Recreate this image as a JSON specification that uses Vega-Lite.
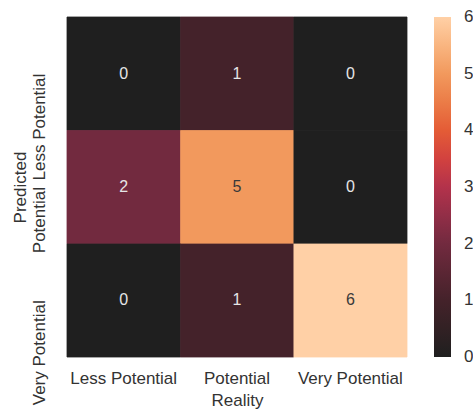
{
  "$schema": "https://vega.github.io/schema/vega-lite/v6.json",
  "autosize": "none",
  "width": 340,
  "height": 340,
  "padding": {"left": 67, "top": 17, "right": 66, "bottom": 52},
  "background": "white",
  "config": {
    "font": "Liberation Sans",
    "view": {"stroke": null},
    "axis": {"labelColor": "#333333", "titleColor": "#333333", "titleFontWeight": "normal", "domain": false, "ticks": false, "grid": false}
  },
  "data": {
    "values": [
      {"Predicted": "Less Potential", "Reality": "Less Potential", "count": 0},
      {"Predicted": "Less Potential", "Reality": "Potential", "count": 1},
      {"Predicted": "Less Potential", "Reality": "Very Potential", "count": 0},
      {"Predicted": "Potential", "Reality": "Less Potential", "count": 2},
      {"Predicted": "Potential", "Reality": "Potential", "count": 5},
      {"Predicted": "Potential", "Reality": "Very Potential", "count": 0},
      {"Predicted": "Very Potential", "Reality": "Less Potential", "count": 0},
      {"Predicted": "Very Potential", "Reality": "Potential", "count": 1},
      {"Predicted": "Very Potential", "Reality": "Very Potential", "count": 6}
    ]
  },
  "encoding": {
    "x": {
      "field": "Reality", "type": "nominal",
      "sort": ["Less Potential", "Potential", "Very Potential"],
      "scale": {"paddingInner": 0, "paddingOuter": 0},
      "axis": {"orient": "bottom", "labelAngle": 0, "labelFontSize": 17, "titleFontSize": 17, "labelPadding": 13, "titlePadding": 6}
    },
    "y": {
      "field": "Predicted", "type": "nominal",
      "sort": ["Less Potential", "Potential", "Very Potential"],
      "scale": {"paddingInner": 0, "paddingOuter": 0},
      "axis": {"orient": "left", "labelAngle": 270, "labelAlign": "right", "labelBaseline": "bottom", "labelFontSize": 17, "titleFontSize": 17, "labelPadding": 19, "titlePadding": 1}
    }
  },
  "layer": [
    {
      "mark": {"type": "rect", "filled": false, "strokeWidth": 0.8},
      "encoding": {
        "stroke": {
          "field": "count", "type": "quantitative",
          "scale": {
            "domain": [0, 1, 2, 3, 3.5, 4, 5, 6.001],
            "range": ["#1f1f1f", "#44222a", "#722a3f", "#b3324b", "#d2423f", "#e45c36", "#f2995d", "#ffd0a6"]
          },
          "legend": null
        }
      }
    },
    {
      "mark": {"type": "rect", "strokeWidth": 0},
      "encoding": {
        "color": {
          "field": "count", "type": "quantitative",
          "scale": {
            "domain": [0, 1, 2, 3, 3.5, 4, 5, 6],
            "range": ["#1f1f1f", "#44222a", "#722a3f", "#b3324b", "#d2423f", "#e45c36", "#f2995d", "#ffd0a6"]
          },
          "legend": {
            "type": "gradient",
            "orient": "none", "legendX": 367, "legendY": 0, "padding": 0,
            "title": null, "direction": "vertical",
            "gradientLength": 340, "gradientThickness": 17, "gradientStrokeWidth": 0,
            "values": [0, 1, 2, 3, 4, 5, 6],
            "labelFontSize": 17, "labelOffset": 13, "labelColor": "#333333",
            "labelBaseline": "middle", "labelOverlap": false,
            "encode": {"labels": {"update": {"baseline": {"value": "middle"}}}}
          }
        }
      }
    },
    {
      "mark": {"type": "text", "fontSize": 16},
      "encoding": {
        "text": {"field": "count", "type": "quantitative"},
        "color": {
          "condition": {"test": "datum.count >= 4", "value": "#3a3a3a"},
          "value": "#e6e6e6"
        }
      }
    }
  ]
}
